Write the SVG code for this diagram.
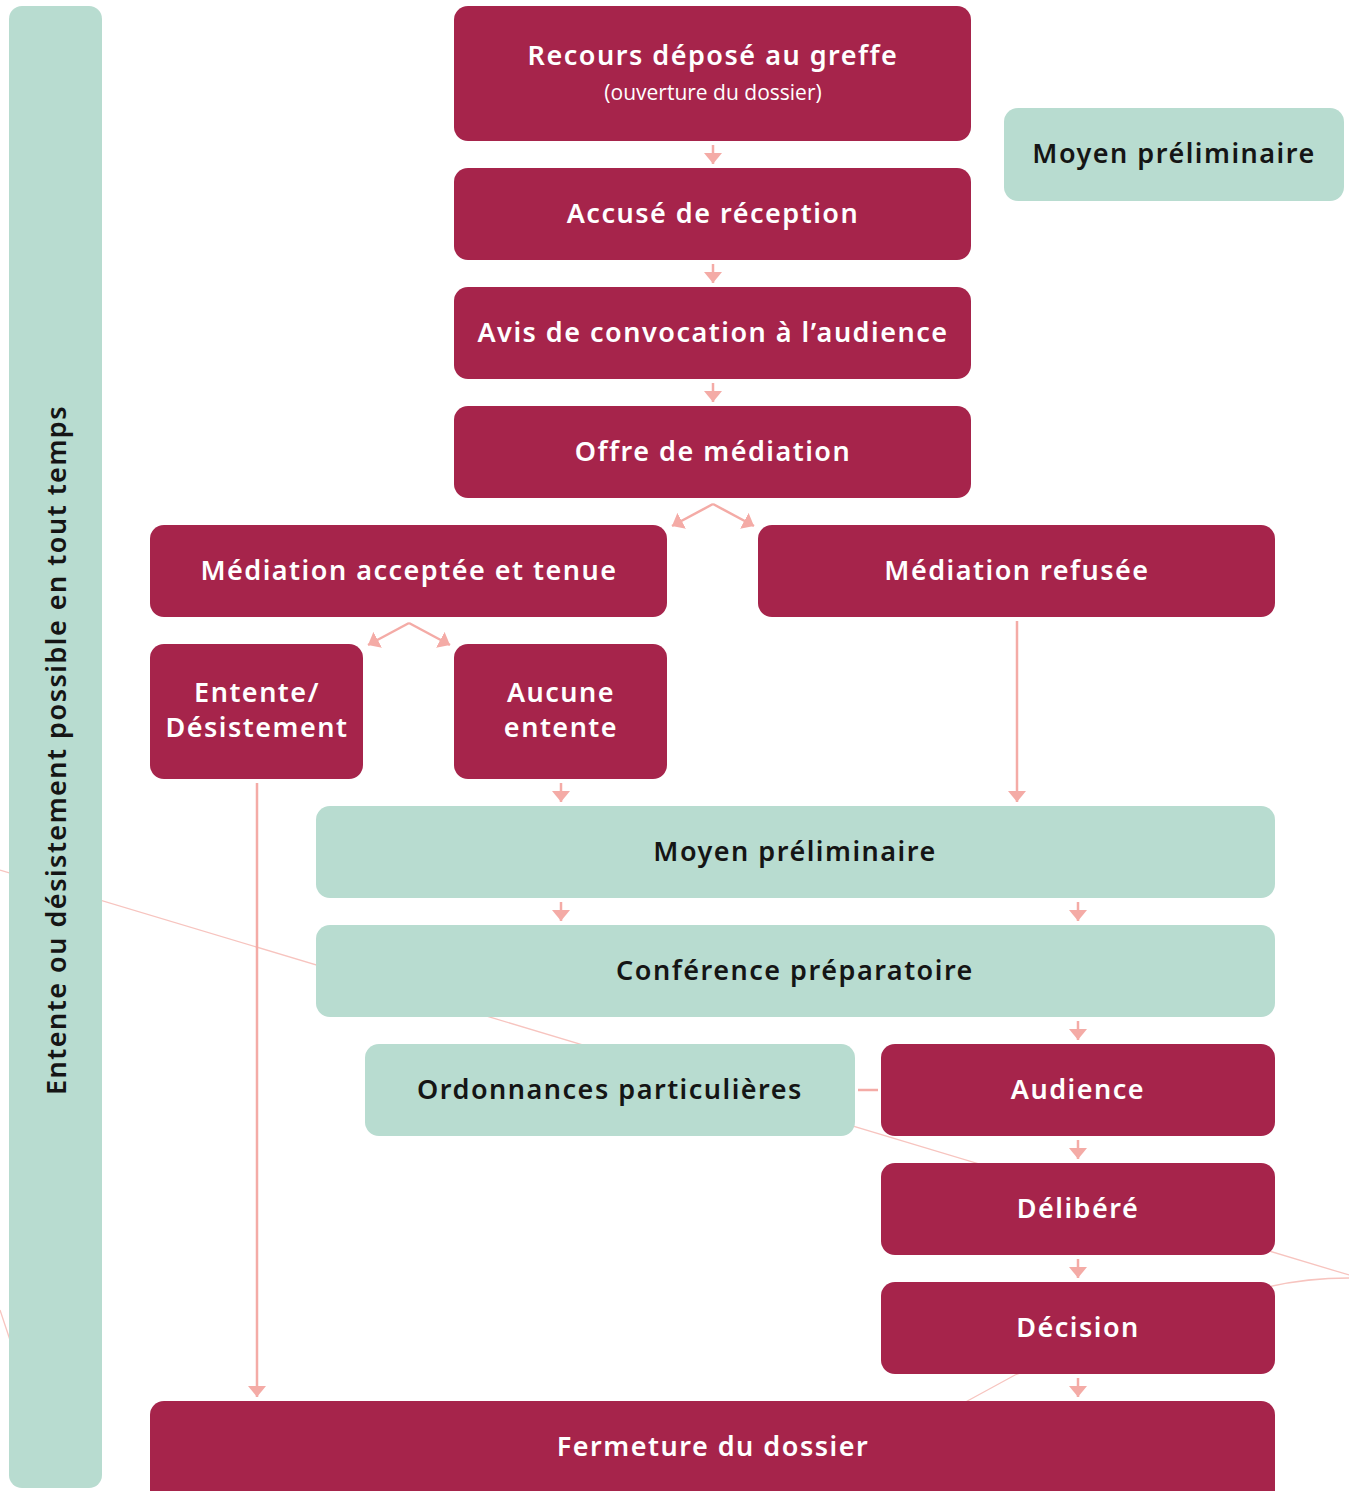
<svg xmlns="http://www.w3.org/2000/svg" width="1349" height="1491" viewBox="0 0 1349 1491">
<style>
.m{fill:#a6244b}
.g{fill:#b8dcd0}
.tw{fill:#ffffff;font-family:"Noto Sans","Open Sans",sans-serif;font-weight:600;font-size:27px;letter-spacing:1.5px;text-anchor:middle}
.tb{fill:#151515;font-family:"Noto Sans","Open Sans",sans-serif;font-weight:600;font-size:27px;letter-spacing:1.5px;text-anchor:middle}
.sub{fill:#ffffff;font-family:"Open Sans","Noto Sans",sans-serif;font-size:21px;text-anchor:middle}
.c{stroke:#f4aba6;stroke-width:2.5;fill:none}
.deco{stroke:#f7c4bf;stroke-width:1.3;fill:none}
</style>
<defs>
<marker id="ah" markerWidth="11" markerHeight="18" refX="11" refY="9" orient="auto" markerUnits="userSpaceOnUse">
<path d="M0,0 L11,9 L0,18 z" fill="#f4aba6"/>
</marker>
</defs>
<rect width="1349" height="1491" fill="#ffffff"/>
<g id="decor">
<line class="deco" x1="0" y1="870" x2="1349" y2="1275"/>
<path class="deco" d="M1349,1278 Q1290,1278 1240,1295 L1015,1375 L960,1405"/>
<line class="deco" x1="0" y1="1310" x2="10" y2="1340"/>
</g>
<g id="connectors">
<path class="c" d="M713,145 V164" marker-end="url(#ah)"/>
<path class="c" d="M713,264 V283" marker-end="url(#ah)"/>
<path class="c" d="M713,383 V402" marker-end="url(#ah)"/>
<path class="c" d="M713,504 L672,526" marker-end="url(#ah)"/>
<path class="c" d="M713,504 L754,526" marker-end="url(#ah)"/>
<path class="c" d="M409,623 L368,645" marker-end="url(#ah)"/>
<path class="c" d="M409,623 L450,645" marker-end="url(#ah)"/>
<path class="c" d="M257,783 V1397" marker-end="url(#ah)"/>
<path class="c" d="M561,783 V802" marker-end="url(#ah)"/>
<path class="c" d="M1017,621 V802" marker-end="url(#ah)"/>
<path class="c" d="M561,902 V921" marker-end="url(#ah)"/>
<path class="c" d="M1078,902 V921" marker-end="url(#ah)"/>
<path class="c" d="M1078,1021 V1040" marker-end="url(#ah)"/>
<path class="c" d="M858,1090 H878"/>
<path class="c" d="M1078,1140 V1159" marker-end="url(#ah)"/>
<path class="c" d="M1078,1259 V1278" marker-end="url(#ah)"/>
<path class="c" d="M1078,1378 V1397" marker-end="url(#ah)"/>
</g>
<g id="side">
<rect class="g" x="9" y="6" width="93" height="1482" rx="13"/>
<text class="tb" transform="translate(66,750) rotate(-90)">Entente ou désistement possible en tout temps</text>
</g>
<g id="recours">
<rect class="m" x="454" y="6" width="517" height="135" rx="14"/>
<text class="tw" x="713" y="65">Recours déposé au greffe</text>
<text class="sub" x="713" y="100">(ouverture du dossier)</text>
</g>
<g id="moyen-top">
<rect class="g" x="1004" y="108" width="340" height="93" rx="14"/>
<text class="tb" x="1174" y="163">Moyen préliminaire</text>
</g>
<g id="accuse">
<rect class="m" x="454" y="168" width="517" height="92" rx="14"/>
<text class="tw" x="713" y="223">Accusé de réception</text>
</g>
<g id="avis">
<rect class="m" x="454" y="287" width="517" height="92" rx="14"/>
<text class="tw" x="713" y="342">Avis de convocation à l’audience</text>
</g>
<g id="offre">
<rect class="m" x="454" y="406" width="517" height="92" rx="14"/>
<text class="tw" x="713" y="461">Offre de médiation</text>
</g>
<g id="acceptee">
<rect class="m" x="150" y="525" width="517" height="92" rx="14"/>
<text class="tw" x="409" y="580">Médiation acceptée et tenue</text>
</g>
<g id="refusee">
<rect class="m" x="758" y="525" width="517" height="92" rx="14"/>
<text class="tw" x="1017" y="580">Médiation refusée</text>
</g>
<g id="entente">
<rect class="m" x="150" y="644" width="213" height="135" rx="14"/>
<text class="tw" x="257" y="702">Entente/</text>
<text class="tw" x="257" y="737">Désistement</text>
</g>
<g id="aucune">
<rect class="m" x="454" y="644" width="213" height="135" rx="14"/>
<text class="tw" x="561" y="702">Aucune</text>
<text class="tw" x="561" y="737">entente</text>
</g>
<g id="moyen">
<rect class="g" x="316" y="806" width="959" height="92" rx="14"/>
<text class="tb" x="795" y="861">Moyen préliminaire</text>
</g>
<g id="conference">
<rect class="g" x="316" y="925" width="959" height="92" rx="14"/>
<text class="tb" x="795" y="980">Conférence préparatoire</text>
</g>
<g id="ordonnances">
<rect class="g" x="365" y="1044" width="490" height="92" rx="14"/>
<text class="tb" x="610" y="1099">Ordonnances particulières</text>
</g>
<g id="audience">
<rect class="m" x="881" y="1044" width="394" height="92" rx="14"/>
<text class="tw" x="1078" y="1099">Audience</text>
</g>
<g id="delibere">
<rect class="m" x="881" y="1163" width="394" height="92" rx="14"/>
<text class="tw" x="1078" y="1218">Délibéré</text>
</g>
<g id="decision">
<rect class="m" x="881" y="1282" width="394" height="92" rx="14"/>
<text class="tw" x="1078" y="1337">Décision</text>
</g>
<g id="fermeture">
<rect class="m" x="150" y="1401" width="1125" height="110" rx="14"/>
<text class="tw" x="713" y="1456">Fermeture du dossier</text>
</g>
</svg>
